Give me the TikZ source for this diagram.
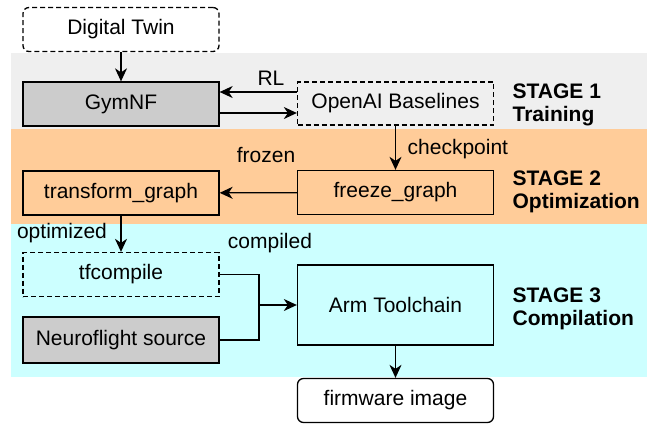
\documentclass[tikz,border=0pt]{standalone}
\usepackage{fontspec}
\setmainfont{Liberation Sans}
\usetikzlibrary{arrows.meta,calc}
\definecolor{stagegray}{HTML}{EFEFEF}
\definecolor{stageorange}{HTML}{FFCC99}
\definecolor{stagecyan}{HTML}{CCFFFF}
\definecolor{boxgray}{HTML}{CCCCCC}

\begin{document}
\begin{tikzpicture}[x=1pt, y=-1pt, line width=1.3pt,
  font=\fontsize{21}{23}\selectfont,
  >={Stealth[length=13pt,width=12pt,inset=4pt]},
  blk/.style={draw, minimum width=196pt, minimum height=44pt, inner sep=0pt},
  dsh/.style={blk, dash pattern=on 5pt off 3pt},
  lbl/.style={inner sep=0pt},
  stage/.style={anchor=west, align=left, inner sep=0pt, font=\fontsize{21}{23}\selectfont\bfseries}]
\useasboundingbox (0,0) rectangle (662,424);
% stage bands
\fill[stagegray]   (11,53)  rectangle (647,129);
\fill[stageorange] (11,129) rectangle (647,224);
\fill[stagecyan]   (11,224) rectangle (647,377);
\node[stage] (s1) at (512,104.5) {STAGE 1\\Training};
\node[stage] (s2) at (512,192)   {STAGE 2\\Optimization};
\node[stage] (s3) at (512,308.5) {STAGE 3\\Compilation};
% boxes
\node[dsh, rounded corners=6pt, fill=white] (twin) at (121,29.5) {Digital Twin};
\node[blk, fill=boxgray] (gym) at (121,104) {GymNF};
\node[dsh, fill=stagegray, minimum height=43pt] (openai) at (395.5,103.5) {OpenAI Baselines};
\node[blk, fill=stageorange] (freeze) at (395.5,192.5) {freeze\_graph};
\node[blk, fill=stageorange] (transform) at (121,193) {transform\_graph};
\node[dsh, fill=stagecyan] (tfc) at (121,274.5) {tfcompile};
\node[blk, fill=boxgray, minimum height=46pt] (nsrc) at (121,340) {Neuroflight source};
\node[blk, fill=stagecyan, minimum height=80pt] (arm) at (395.5,305) {Arm Toolchain};
\node[blk, rounded corners=6pt, fill=white] (fw) at (395.5,400.5) {firmware image};
% connectors
\draw[->] (twin) -- (gym);
\draw[->] ([yshift=11.5pt]openai.west) -- ([yshift=11.5pt]openai.west -| gym.east);
\draw[->] ([yshift=-9pt]gym.east) -- ([yshift=-9pt]gym.east -| openai.west);
\draw[->] (openai) -- (freeze);
\draw[->] (freeze) -- (transform);
\draw[->] (transform) -- (tfc);
\coordinate (join) at (259,305);
\draw (tfc.east) -| (join);
\draw (nsrc.east) -| (join);
\draw[->] (join) -- (arm.west);
\draw[->] (arm) -- (fw);
% labels
\node[lbl] (rl) at (271,78) {RL};
\node[lbl] (frozen) at (266,155) {frozen};
\node[lbl, anchor=west] (ckpt) at (407,149) {checkpoint};
\node[lbl] (optim) at (62,233) {optimized};
\node[lbl] (compiled) at (270,243) {compiled};
\end{tikzpicture}
\end{document}
